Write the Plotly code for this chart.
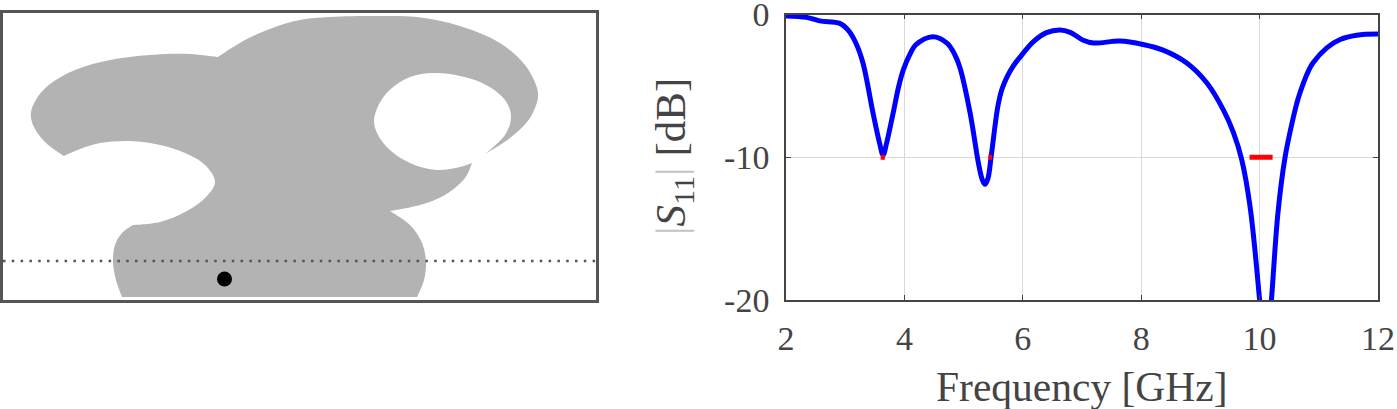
import plotly.graph_objects as go

# antenna outline, left panel in image pixels
shape_x = [122, 122, 116, 113, 115, 122, 133, 133, 160, 185, 205, 215, 205, 185, 160, 130, 100, 80, 64, 64, 45, 33, 31, 37, 50, 75, 110, 150, 190, 218, 218,
           245, 275, 300, 330, 375, 417, 460, 500, 525, 536, 538, 530, 510, 485, 485, 505, 511, 505, 480, 437, 410, 385, 374, 385, 410, 437, 460, 472, 472,
           465, 445, 420, 390, 390, 410, 422, 426, 424, 417, 417, 122]
shape_y = [297, 297, 280, 262, 245, 233, 225, 225, 222, 212, 198, 182, 165, 153, 145, 141, 143, 149, 156, 156, 142, 125, 112, 98, 84, 70, 60, 55, 54, 57, 57,
           40, 27, 20, 17, 16, 17, 26, 43, 65, 85, 97, 118, 138, 154, 154, 135, 117, 100, 82, 73, 77, 95, 122, 145, 163, 170, 167, 163, 163,
           178, 195, 205, 211, 211, 225, 243, 262, 280, 297, 297, 297]
feed_x = [224.5]
feed_y = [279]
ground_x = [3, 596]
ground_y = [261, 261]

freq = [2.0, 2.35, 2.57, 2.91, 3.05, 3.18, 3.3, 3.47, 3.58, 3.64, 3.7, 3.81, 3.9, 3.98, 4.08, 4.2, 4.48, 4.72, 4.85, 4.94, 5.11, 5.25, 5.31, 5.36, 5.41, 5.47,
        5.58, 5.65, 5.73, 5.84, 5.95, 6.18, 6.4, 6.63, 6.8, 7.02, 7.2, 7.64, 8.03, 8.37, 8.77, 9.11, 9.39, 9.56, 9.7, 9.84, 10.0, 10.1, 10.2, 10.31, 10.43, 10.57,
        10.65, 10.74, 10.82, 10.9, 11.13, 11.36, 11.64, 12.0]
s11 = [-0.1, -0.2, -0.45, -0.62, -1.1, -2.0, -3.4, -6.9, -9.0, -9.85, -9.0, -6.9, -5.1, -3.9, -2.9, -2.1, -1.55, -2.0, -2.8, -3.75, -6.9, -10.4, -11.5, -11.9, -11.5, -9.8,
       -6.4, -5.2, -4.4, -3.6, -3.0, -1.9, -1.27, -1.08, -1.25, -1.8, -2.0, -1.86, -2.1, -2.5, -3.4, -4.8, -6.7, -8.3, -10.2, -13.5, -20, -25, -20, -13.9, -10, -7.2,
       -5.9, -4.8, -4.0, -3.4, -2.35, -1.75, -1.45, -1.37]
band_edges = [(3.60, 3.67), (5.42, 5.48), (9.83, 10.22)]
band_level = -10
x_ticks = [2, 4, 6, 8, 10, 12]
y_ticks = [0, -10, -20]
y_labels = ["0", "-10", "-20"]

W, H = 1397, 409
ink = "#444444"

fig = go.Figure()
fig.add_trace(go.Scatter(x=shape_x, y=shape_y, mode="lines", fill="toself", fillcolor="#b3b3b3",
                         line=dict(color="#b3b3b3", width=0, shape="spline", smoothing=1.0),
                         xaxis="x", yaxis="y"))
fig.add_trace(go.Scatter(x=ground_x, y=ground_y, mode="lines",
                         line=dict(color="#555555", width=2.5, dash="2.5px,6.3px"), xaxis="x", yaxis="y"))
fig.add_trace(go.Scatter(x=feed_x, y=feed_y, mode="markers", marker=dict(color="black", size=15),
                         xaxis="x", yaxis="y"))

fig.add_trace(go.Scatter(x=freq, y=s11, mode="lines", line=dict(color="#0000ff", width=5, shape="spline", smoothing=1.0),
                         xaxis="x2", yaxis="y2"))
for lo, hi in band_edges:
    fig.add_trace(go.Scatter(x=[lo, hi], y=[band_level, band_level], mode="lines",
                             line=dict(color="#ff0000", width=5), xaxis="x2", yaxis="y2"))

fig.update_layout(
    width=W, height=H, margin=dict(l=0, r=0, t=0, b=0), showlegend=False,
    paper_bgcolor="white", plot_bgcolor="white",
    font=dict(family="Liberation Serif", color=ink, size=34),
    xaxis=dict(domain=[3 / W, 596 / W], range=[3, 596], showgrid=False, zeroline=False, showticklabels=False,
               ticks="", showline=True, mirror=True, linecolor="#555555", linewidth=3, automargin=False),
    yaxis=dict(domain=[1 - 300 / H, 1 - 13 / H], range=[300, 13], showgrid=False, zeroline=False, showticklabels=False,
               ticks="", showline=True, mirror=True, linecolor="#555555", linewidth=3, automargin=False),
    xaxis2=dict(domain=[786 / W, 1378 / W], range=[2, 12], anchor="y2", tickvals=x_ticks, automargin=False,
                showgrid=True, gridcolor="#d9d9d9", gridwidth=1, zeroline=False, ticklabeloverflow="allow",
                ticks="inside", ticklen=5, tickcolor="#444444", showline=True, mirror="ticks",
                linecolor="#444444", linewidth=1.5, ticklabelstandoff=7),
    yaxis2=dict(domain=[1 - 300 / H, 1 - 14.5 / H], range=[-20, 0], anchor="x2", tickvals=y_ticks, ticktext=y_labels,
                automargin=False, ticklabeloverflow="allow",
                showgrid=True, gridcolor="#d9d9d9", gridwidth=1, zeroline=False,
                ticks="inside", ticklen=5, tickcolor="#444444", showline=True, mirror="ticks",
                linecolor="#444444", linewidth=1.5, ticklabelstandoff=8),
    annotations=[
        dict(text="Frequency [GHz]", xref="paper", yref="paper", x=1082 / W, y=1 - 387 / H,
             showarrow=False, xanchor="center", yanchor="middle", font=dict(size=41.5)),
        dict(text='<span style="color:#c4c4c4">|</span><i>S</i><sub>11</sub><span style="color:#c4c4c4">|</span> [dB]',
             xref="paper", yref="paper", x=674 / W, y=1 - 157 / H, textangle=-90,
             showarrow=False, xanchor="center", yanchor="middle", font=dict(size=43)),
    ],
)

fig.write_html("out.html", config=dict(displayModeBar=False),
               post_script="document.body.style.margin='0';document.body.style.overflow='hidden';")
